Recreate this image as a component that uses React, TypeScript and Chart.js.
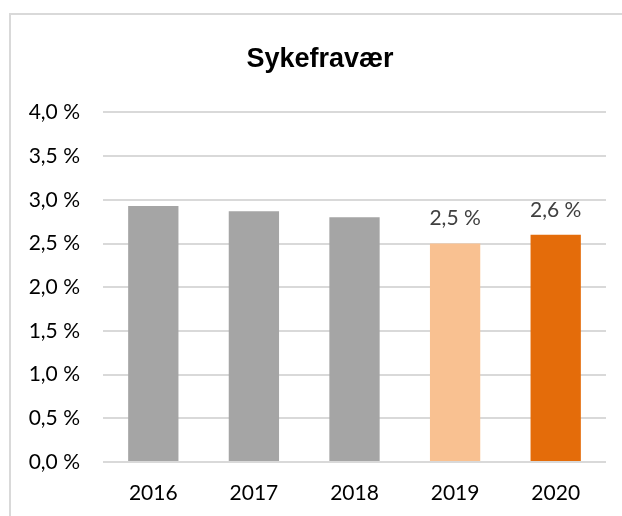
import React, { useEffect, useRef } from "react";
import { Chart, registerables } from "chart.js";

Chart.register(...registerables);

const categories = ["2016", "2017", "2018", "2019", "2020"];
const values = [2.93, 2.87, 2.8, 2.5, 2.6];
const barColors = ["#a5a5a5", "#a5a5a5", "#a5a5a5", "#f9c191", "#e46c0a"];
const labeledCategories = ["2019", "2020"];
const chartTitle = "Sykefravær";

const fmt = (v: number) => v.toFixed(1).replace(".", ",") + " %";

const TITLE_FONT = "bold 27px 'Liberation Sans', Arial";

const labelPlugin = {
  id: "barLabels",
  afterDatasetsDraw(chart: any) {
    const ctx = chart.ctx;
    const meta = chart.getDatasetMeta(0);
    ctx.save();
    ctx.font = "21px Lato";
    ctx.fillStyle = "#404040";
    ctx.textAlign = "center";
    ctx.textBaseline = "middle";
    meta.data.forEach((bar: any, i: number) => {
      if (!labeledCategories.includes(categories[i])) return;
      ctx.fillText(fmt(values[i]), bar.x, bar.y - 25);
    });
    ctx.restore();
  },
  afterDraw(chart: any) {
    const ctx = chart.ctx;
    const tb = chart.titleBlock;
    ctx.save();
    ctx.font = TITLE_FONT;
    ctx.fillStyle = "#000000";
    ctx.textAlign = "center";
    ctx.textBaseline = "middle";
    ctx.fillText(chartTitle, chart.width / 2 + 9, tb.top + 43 + 16.2);
    ctx.restore();
  },
};

export default function App() {
  const ref = useRef<HTMLCanvasElement | null>(null);
  useEffect(() => {
    if (!ref.current) return;
    const chart = new Chart(ref.current, {
      type: "bar",
      data: {
        labels: categories,
        datasets: [
          {
            data: values,
            backgroundColor: barColors,
            barPercentage: 0.5,
            categoryPercentage: 1,
          },
        ],
      },
      plugins: [labelPlugin],
      options: {
        animation: false,
        responsive: false,
        layout: { padding: { top: 0, right: 16, bottom: 0, left: 0 } },
        plugins: {
          legend: { display: false },
          tooltip: { enabled: false },
          title: {
            display: true,
            text: chartTitle,
            color: "rgba(0,0,0,0)",
            font: { family: "'Liberation Sans', Arial", size: 27, weight: "bold" },
            padding: { top: 43, bottom: 37 },
          },
        },
        scales: {
          x: {
            afterFit: (s: any) => {
              s.height = 54;
            },
            grid: { display: false, drawTicks: false },
            border: { display: false },
            ticks: {
              color: "#000000",
              font: { family: "Lato", size: 21 },
              padding: 19,
            },
          },
          y: {
            min: 0,
            max: 4,
            afterFit: (s: any) => {
              s.width = 103;
            },
            grid: { color: "#d9d9d9", lineWidth: 2, drawTicks: false },
            border: { display: false },
            ticks: {
              stepSize: 0.5,
              color: "#000000",
              font: { family: "Lato", size: 21 },
              padding: 23,
              callback: (v: any) => fmt(Number(v)),
            },
          },
        },
      },
    });
    return () => chart.destroy();
  }, []);

  return (
    <div style={{ position: "fixed", left: 0, top: 0, width: 622, height: 516, overflow: "hidden", background: "#fff" }}>
      <div
        style={{
          position: "absolute",
          left: 9,
          top: 13,
          width: 700,
          height: 600,
          borderLeft: "2px solid #d9d9d9",
          borderTop: "2px solid #d9d9d9",
        }}
      />
      <canvas ref={ref} width={622} height={516} style={{ position: "absolute", left: 0, top: 0 }} />
    </div>
  );
}
